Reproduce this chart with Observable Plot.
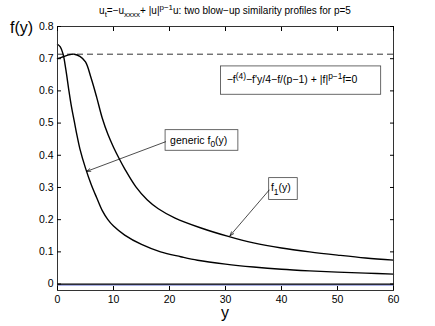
<!DOCTYPE html>
<html><head><meta charset="utf-8">
<script src="https://cdn.jsdelivr.net/npm/d3@7"></script>
<script src="https://cdn.jsdelivr.net/npm/@observablehq/plot@0.6"></script>
<style>
body{margin:0;background:#fff}
svg{font-family:"Liberation Sans",Arial,sans-serif}
</style>
</head><body><div id="chart"></div>
<script>
// generic profile f0(y)
const yGen = [0,0.5,1,1.5,2,2.5,3,3.5,4,5,6,7,8,9,10,12,15,18.4,22,25,30,35,40,45,50,55,60];
const fGen = [0.745,0.737,0.714,0.665,0.605,0.55,0.505,0.46,0.42,0.36,0.31,0.268,0.228,0.2,0.18,0.152,0.123,0.1,0.085,0.074,0.062,0.053,0.046,0.041,0.037,0.034,0.031];
// second profile f1(y)
const yF1 = [0,1,2,3,4,5,6,7,8,9,10,11,12,14,16,18,21,25.5,30.5,35,40,45,50,55,60];
const fF1 = [0.70,0.706,0.712,0.714,0.707,0.69,0.64,0.58,0.515,0.465,0.425,0.39,0.358,0.302,0.262,0.234,0.205,0.175,0.148,0.128,0.112,0.1,0.09,0.081,0.0745];
const xTicks = [0,10,20,30,40,50,60];
const yTicks = [0,0.1,0.2,0.3,0.4,0.5,0.6,0.7,0.8];
const yTickLabels = ["0","0.1","0.2","0.3","0.4","0.5","0.6","0.7","0.8"];
const dashedLevel = [0.714];
const zeroLevel = [0];
const blueLevel = [-0.003];
// annotation boxes (data units)
const boxX1 = [29.2, 19.3, 37.8];
const boxX2 = [57.8, 32.3, 42.9];
const boxY1 = [0.588, 0.414, 0.261];
const boxY2 = [0.676, 0.478, 0.329];
// arrows
const arrX1 = [19.3, 37.8];
const arrY1 = [0.442, 0.292];
const arrX2 = [5.2, 30.8];
const arrY2 = [0.35, 0.150];
// annotation text anchors
const annX = [30.3, 20.2, 38.2];
const annY = [0.622, 0.433, 0.286];

const genRows = yGen.map((y,i)=>({y, f:fGen[i]}));
const f1Rows = yF1.map((y,i)=>({y, f:fF1[i]}));
const boxes = boxX1.map((_,i)=>({x1:boxX1[i],x2:boxX2[i],y1:boxY1[i],y2:boxY2[i]}));
const arrows = arrX1.map((_,i)=>({x1:arrX1[i],y1:arrY1[i],x2:arrX2[i],y2:arrY2[i]}));

const chart = Plot.plot({
  width:435, height:326,
  marginLeft:57, marginRight:42, marginTop:26, marginBottom:36,
  x:{domain:[0,60]},
  y:{domain:[-0.02,0.8]},
  style:{fontFamily:'"Liberation Sans",Arial,sans-serif', fontSize:"10.5px", color:"black", background:"white"},
  marks:[
    Plot.ruleY(blueLevel,{stroke:"#3040c0", strokeWidth:0.8}),
    Plot.ruleY(zeroLevel,{stroke:"black", strokeWidth:1.3}),
    Plot.ruleY(dashedLevel,{stroke:"black", strokeWidth:0.8, strokeDasharray:"6,4"}),
    Plot.line(genRows,{x:"y", y:"f", curve:"catmull-rom", stroke:"black", strokeWidth:1.4}),
    Plot.line(f1Rows,{x:"y", y:"f", curve:"catmull-rom", stroke:"black", strokeWidth:1.4}),
    Plot.rect(boxes,{x1:"x1",x2:"x2",y1:"y1",y2:"y2", fill:"white", stroke:"#444", strokeWidth:0.8}),
    Plot.arrow(arrows,{x1:"x1",y1:"y1",x2:"x2",y2:"y2", stroke:"black", strokeWidth:0.7, headLength:9, headAngle:40}),
    Plot.frame({stroke:"#333", strokeWidth:1}),
    Plot.axisX(xTicks,{anchor:"bottom", tickSize:-4, tickPadding:9, label:null, fontSize:10.5}),
    Plot.axisX(xTicks,{anchor:"top", tickSize:-4, tickFormat:()=>"", label:null}),
    Plot.axisY(yTicks,{anchor:"left", tickSize:-4, tickPadding:8, label:null, tickFormat:(d,i)=>yTickLabels[i], fontSize:10.5}),
    Plot.axisY(yTicks,{anchor:"right", tickSize:-4, tickFormat:()=>"", label:null})
  ]
});
document.getElementById("chart").appendChild(chart);

const sx = chart.scale("x"), sy = chart.scale("y");
const NS = "http://www.w3.org/2000/svg";
function rich(parts, x, y, size, anchor){
  const t = document.createElementNS(NS,"text");
  t.setAttribute("x", x); t.setAttribute("y", y);
  t.setAttribute("font-size", size);
  t.setAttribute("fill","black");
  t.setAttribute("text-anchor", anchor || "start");
  let shift = 0;
  for (const p of parts){
    const s = document.createElementNS(NS,"tspan");
    let target = 0, fs = size;
    if (p[0]==="sup"){ target = -size*0.42; fs = size*0.8; }
    else if (p[0]==="sub"){ target = size*0.3; fs = size*0.8; }
    s.setAttribute("dy", target - shift);
    shift = target;
    s.setAttribute("font-size", fs);
    s.textContent = p[1];
    t.appendChild(s);
  }
  chart.appendChild(t);
  return t;
}
rich([["n","u"],["sub","t"],["n","=−u"],["sub","xxxx"],["n","+ |u|"],["sup","p−1"],["n","u: two blow−up similarity profiles for p=5"]], (57+393)/2, 14, 10, "middle");
rich([["n","f(y)"]], 10, 33, 16);
rich([["n","y"]], (57+393)/2, 318, 16, "middle");
rich([["n","−f"],["sup","(4)"],["n","−f'y/4−f/(p−1) + |f|"],["sup","p−1"],["n","f=0"]], sx.apply(annX[0]), sy.apply(annY[0]), 10.5);
rich([["n","generic f"],["sub","0"],["n","(y)"]], sx.apply(annX[1]), sy.apply(annY[1]), 10.5);
rich([["n","f"],["sub","1"],["n","(y)"]], sx.apply(annX[2]), sy.apply(annY[2]), 10.5);
</script>
</body></html>
